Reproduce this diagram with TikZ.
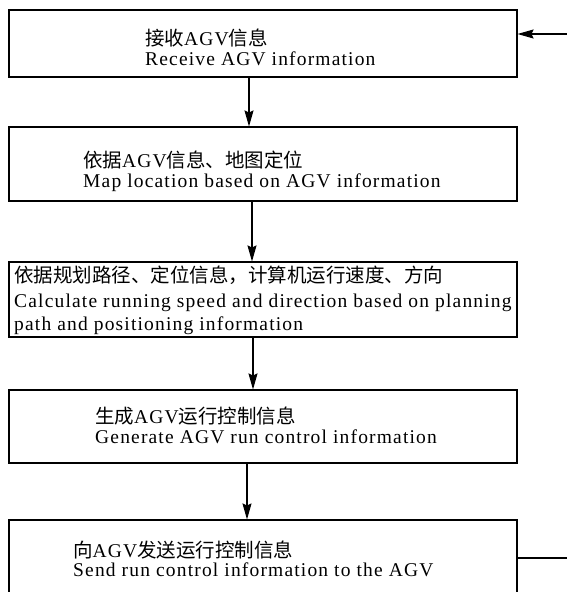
\documentclass[tikz,border=0pt]{standalone}
\usepackage{fontspec}
\setmainfont{Liberation Serif}[LetterSpace=6]
\newfontfamily\cjk{Noto Sans CJK SC}
\usetikzlibrary{arrows.meta}
\tikzset{
  box/.style={draw=black, line width=1.1pt, minimum width=508pt, inner sep=0pt, fill=white},
  txt/.style={anchor=base west, inner sep=0pt, font=\fontsize{19.5}{20}\selectfont},
  arr/.style={line width=1.1pt, -{Stealth[length=16pt,width=9pt,inset=2pt]}},
  ln/.style={line width=1.1pt}
}
\begin{document}
\begin{tikzpicture}[x=1pt,y=-1pt]
\useasboundingbox (0,0) rectangle (567,592);
\clip (0,0) rectangle (567,592);
\node[box, minimum height=67pt] (b1) at (263,43.5) {};
\node[box, minimum height=74pt] (b2) at (263,164) {};
\node[box, minimum height=75pt] (b3) at (263,299.5) {};
\node[box, minimum height=73pt] (b4) at (263,426.5) {};
\node[box, minimum height=100pt] (b5) at (263,570) {};

\node[txt] (t1a) at (145,45) {{\cjk 接收}AGV{\cjk 信息}};
\node[txt] (t1b) at (145,65) {Receive AGV information};
\node[txt] (t2a) at (83,167) {{\cjk 依据}AGV{\cjk 信息、地图定位}};
\node[txt] (t2b) at (83,187) {Map location based on AGV information};
\node[txt] (t3a) at (14,282) {{\cjk 依据规划路径、定位信息，计算机运行速度、方向}};
\node[txt] (t3b) at (14,307) {Calculate running speed and direction based on planning};
\node[txt] (t3c) at (14,330) {path and positioning information};
\node[txt] (t4a) at (95,423) {{\cjk 生成}AGV{\cjk 运行控制信息}};
\node[txt] (t4b) at (95,443) {Generate AGV run control information};
\node[txt] (t5a) at (73,557) {{\cjk 向}AGV{\cjk 发送运行控制信息}};
\node[txt] (t5b) at (73,576) {Send run control information to the AGV};

\draw[arr] ([xshift=-14pt]b1.south) -- ([xshift=-14pt]b2.north);
\draw[arr] ([xshift=-11pt]b2.south) -- ([xshift=-11pt]b3.north);
\draw[arr] ([xshift=-10pt]b3.south) -- ([xshift=-10pt]b4.north);
\draw[arr] ([xshift=-16pt]b4.south) -- ([xshift=-16pt]b5.north);

\coordinate (fb1) at (575,558);
\coordinate (fb2) at (575,34);
\draw[arr] (b5.east |- fb1) -- (fb1) -- (fb2) -- (b1.east |- fb2);
\end{tikzpicture}
\end{document}
